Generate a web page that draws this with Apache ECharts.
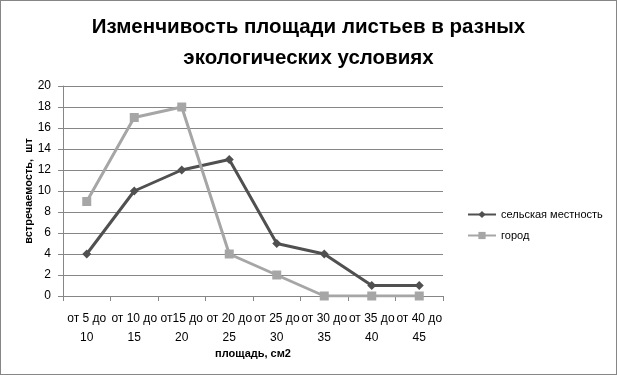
<!DOCTYPE html>
<html><head><meta charset="utf-8">
<script src="https://cdn.jsdelivr.net/npm/echarts@6/dist/echarts.min.js"></script>
<style>html,body{margin:0;padding:0;background:#fff}#c{width:615px;height:373px;border:1px solid #868686}</style>
</head><body><div id="c"></div>
<script>
const categories = ["от 5 до\n10","от 10 до\n15","от15 до\n20","от 20 до\n25","от 25 до\n30","от 30 до\n35","от 35 до\n40","от 40 до\n45"];
const rural = [4,10,12,13,5,4,1,1];
const city = [9,17,18,4,2,0,0,0];
const yTicks = {min:0,max:20,interval:2};

const chart = echarts.init(document.getElementById('c'));
chart.setOption({
  animation:false,
  backgroundColor:'#fff',
  title:{text:'Изменчивость площади листьев в разных\nэкологических условиях',left:'center',top:6,
    textStyle:{fontFamily:'Liberation Sans',fontWeight:'bold',fontSize:20.5,lineHeight:31,color:'#000'}},
  grid:{left:62,right:173,top:85,bottom:78},
  legend:{orient:'vertical',left:461,top:203,itemGap:10,itemWidth:28,itemHeight:9,
    textStyle:{fontFamily:'Liberation Sans',fontSize:11,color:'#000'},
    data:['сельская местность','город']},
  xAxis:{type:'category',data:categories,boundaryGap:true,
    name:'площадь, см2',nameLocation:'middle',nameGap:52,nameMoveOverlap:false,
    nameTextStyle:{fontFamily:'Liberation Sans',fontWeight:'bold',fontSize:11,color:'#000'},
    axisLine:{lineStyle:{color:'#868686'}},axisTick:{show:true,length:5,inside:false,lineStyle:{color:'#868686'}},
    axisLabel:{interval:0,margin:13,lineHeight:19,fontFamily:'Liberation Sans',fontSize:12,color:'#000'}},
  yAxis:{type:'value',min:yTicks.min,max:yTicks.max,interval:yTicks.interval,
    name:'встречаемость,  шт',nameLocation:'middle',nameGap:29,nameRotate:90,nameMoveOverlap:false,
    nameTextStyle:{fontFamily:'Liberation Sans',fontWeight:'bold',fontSize:11,color:'#000'},
    axisLine:{show:true,lineStyle:{color:'#868686'}},axisTick:{show:true,length:5,lineStyle:{color:'#868686'}},
    splitLine:{lineStyle:{color:'#868686'}},
    axisLabel:{margin:12,fontFamily:'Liberation Sans',fontSize:12,color:'#000'}},
  series:[
    {name:'сельская местность',type:'line',data:rural,symbol:'diamond',symbolSize:9,
      itemStyle:{color:'#505050'},lineStyle:{color:'#505050',width:3}},
    {name:'город',type:'line',data:city,symbol:'rect',symbolSize:9,
      itemStyle:{color:'#a6a6a6'},lineStyle:{color:'#a6a6a6',width:3}}
  ]
});
</script></body></html>
